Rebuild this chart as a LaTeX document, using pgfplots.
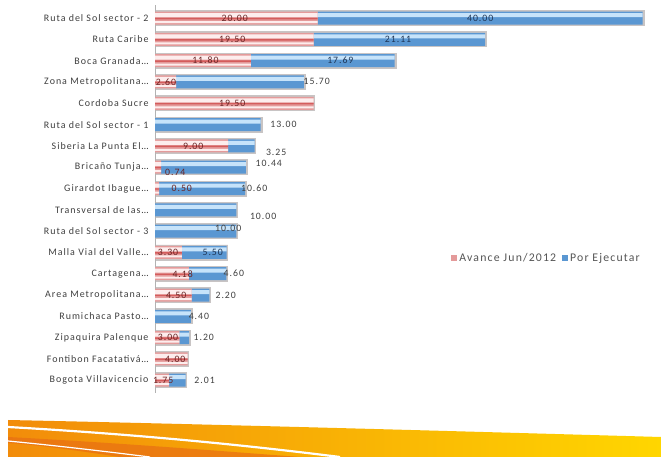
\documentclass[border=0pt]{standalone}
\usepackage{pgfplots}
\usepackage{pgfplotstable}
\pgfplotsset{compat=1.18}
\usepackage{fontspec}
\setmainfont{Carlito}
\newfontfamily\lsfont[LetterSpace=10]{Carlito}
\definecolor{redbase}{HTML}{E49A9A}
\definecolor{redhi}{HTML}{FDEDED}
\definecolor{redcore}{HTML}{D45C5C}
\definecolor{bluebase}{HTML}{5A97D2}
\definecolor{bluehi}{HTML}{C6E3FA}
\definecolor{shadow}{HTML}{C8C4C4}
\definecolor{labgray}{HTML}{404040}
\definecolor{leggray}{HTML}{555555}
\definecolor{redtxt}{HTML}{6A2525}
\definecolor{bluetxt}{HTML}{1E3556}
\definecolor{bandA}{RGB}{242,140,10}
\definecolor{bandB}{RGB}{255,214,0}
\definecolor{bandC}{RGB}{232,110,20}

\pgfplotstableread{
y red blue
0 20.00 40.00
1 19.50 21.11
2 11.80 17.69
3 2.60 15.70
4 19.50 0
5 0 13.00
6 9.00 3.25
7 0.74 10.44
8 0.50 10.60
9 0 10.00
10 0 10.00
11 3.30 5.50
12 4.18 4.60
13 4.50 2.20
14 0 4.40
15 3.00 1.20
16 4.00 0
17 1.75 2.01
}\data

\pgfplotstableread{
x y lab
9.8 0 20.00
9.5 1 19.50
6.2 2 11.80
1.35 3 2.60
9.5 4 19.50
4.7 6 9.00
2.5 7.25 0.74
3.3 8 0.50
1.6 11 3.30
3.4 12 4.18
2.6 13 4.50
1.6 15 3.00
2.5 16 4.00
1.0 17 1.75
}\redlabels

\pgfplotstableread{
x y lab
40.0 0 40.00
29.9 1 21.11
22.8 2 17.69
7.1 11 5.50
}\bluein

\pgfplotstableread{
x y lab
19.9 2.95 15.70
15.8 5 13.00
14.9 6.3 3.25
14.0 6.8 10.44
12.2 8 10.60
13.3 9.3 10.00
9.0 9.85 10.00
9.7 12 4.60
8.7 13 2.20
5.4 14 4.40
6.0 15 1.20
6.1 17 2.01
}\blueout

\pgfplotsset{
  base/.style={at={(155bp,64bp)}, anchor=south west,
    scale only axis, width=504bp, height=387.7bp,
    xmin=0, xmax=62, ymin=-0.6, ymax=17.6,
    y dir=reverse, enlargelimits=false, clip=false},
  lab/.style={draw=none, mark=none, nodes near coords, point meta=explicit symbolic,
    nodes near coords align=center},
}

\begin{document}
\begin{tikzpicture}
\useasboundingbox (0,0) rectangle (661bp,457bp);
\fill[white] (0,0) rectangle (661bp,457bp);
% shadow layer
\begin{axis}[base, hide axis, xbar, bar width=15bp]
\addplot[fill=shadow, draw=shadow, line width=0.8pt] table[x expr=\thisrow{red}+\thisrow{blue}+0.15, y=y]{\data};
\end{axis}
% main bars
\begin{axis}[base,
  xbar stacked, bar width=13bp,
  axis x line=none, axis y line*=left,
  y axis line style={draw=gray!60, line width=0.6pt, -},
  ytick={0,...,17},
  yticklabels={Ruta del Sol sector - 2, Ruta Caribe, Boca Granada…, Zona Metropolitana…, Cordoba Sucre, Ruta del Sol sector - 1, Siberia La Punta El…, Bricaño Tunja…, Girardot Ibague…, Transversal de las…, Ruta del Sol sector - 3, Malla Vial del Valle…, Cartagena…, Area Metropolitana…, Rumichaca Pasto…, Zipaquira Palenque, Fontibon Facatativá…, Bogota Villavicencio},
  major tick length=0pt,
  yticklabel style={font=\lsfont\fontsize{10}{11}\selectfont, text=labgray, xshift=-3bp},
  legend style={at={(0.777,0.348)}, anchor=center, draw=none, fill=none,
    legend columns=2, font=\lsfont\fontsize{11.8}{13}\selectfont, text=leggray,
    /tikz/every even column/.append style={column sep=4bp}},
  legend image code/.code={\fill[#1] (0bp,-3bp) rectangle (6bp,3bp);},
]
\addplot[fill=redbase, draw=none] table[x=red,y=y]{\data};
\addlegendentry{Avance Jun/2012}
\addplot[fill=bluebase, draw=none] table[x=blue,y=y]{\data};
\addlegendentry{Por Ejecutar}
\end{axis}
% highlight strips
\begin{axis}[base, hide axis, xbar stacked, bar width=4bp, bar shift=3bp]
\addplot[fill=redhi, draw=none] table[x=red,y=y]{\data};
\addplot[fill=bluehi, draw=none] table[x=blue,y=y]{\data};
\end{axis}
\begin{axis}[base, hide axis, xbar stacked, bar width=1.4bp, bar shift=-0.5bp]
\addplot[fill=redcore, draw=none] table[x=red,y=y]{\data};
\end{axis}
\begin{axis}[base, hide axis, xbar stacked, bar width=2bp, bar shift=-4bp]
\addplot[fill=redhi, draw=none] table[x=red,y=y]{\data};
\end{axis}
% labels
\begin{axis}[base, hide axis]
\addplot[lab, nodes near coords style={font=\lsfont\fontsize{9.8}{11}\selectfont, text=redtxt, anchor=center}]
  table[x=x,y=y,meta=lab]{\redlabels};
\addplot[lab, nodes near coords style={font=\lsfont\fontsize{9.8}{11}\selectfont, text=bluetxt, anchor=center}]
  table[x=x,y=y,meta=lab]{\bluein};
\addplot[lab, nodes near coords style={font=\lsfont\fontsize{9.8}{11}\selectfont, text=labgray, anchor=center}]
  table[x=x,y=y,meta=lab]{\blueout};
\end{axis}
% decorative band at the bottom
\shade[left color=bandA, right color=bandB]
  (8bp,0) -- (8bp,37bp) .. controls (200bp,33bp) and (450bp,26bp) .. (661bp,20bp) -- (661bp,0) -- cycle;
\fill[bandC, opacity=0.7]
  (8bp,20bp) .. controls (120bp,14bp) and (220bp,6bp) .. (300bp,0) -- (120bp,0) .. controls (80bp,6bp) and (40bp,12bp) .. (8bp,14bp) -- cycle;
\draw[white, line width=2.2pt] (8bp,30bp) .. controls (150bp,22bp) and (260bp,10bp) .. (340bp,0);
\draw[white, line width=1.2pt] (8bp,16bp) .. controls (60bp,11bp) and (110bp,5bp) .. (150bp,0);
\end{tikzpicture}
\end{document}
